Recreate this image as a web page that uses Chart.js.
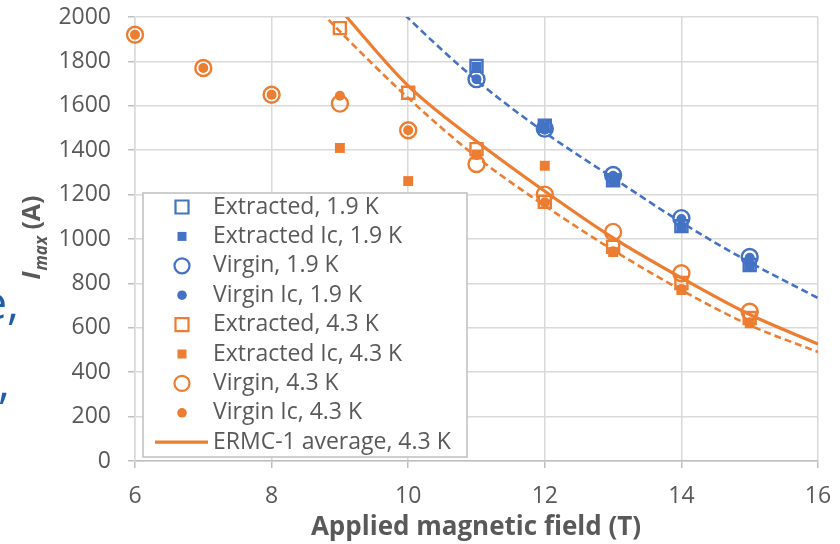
<!DOCTYPE html>
<html>
<head>
<meta charset="utf-8">
<script src="https://cdn.jsdelivr.net/npm/chart.js@4.4.1/dist/chart.umd.min.js"></script>
<style>
  body { margin: 0; background: #fff; }
  #wrap { width: 840px; height: 544px; }
</style>
</head>
<body>
<div id="wrap"><canvas id="chart" width="840" height="544"></canvas></div>
<script>
// field values (T)
const field43 = [6, 7, 8, 9, 10, 11, 12, 13, 14, 15];
const field43ext = [9, 10, 11, 12, 13, 14, 15];
const field19 = [11, 12, 13, 14, 15];

// measured currents (A)
const extracted19   = [1780, 1510, 1265, 1058, 883];
const extractedIc19 = [1775, 1505, 1262, 1052, 878];
const virgin19      = [1720, 1497, 1288, 1094, 919];
const virginIc19    = [1720, 1492, 1285, 1090, 915];
const extracted43   = [1950, 1659, 1405, 1168, 965, 802, 644];
const extractedIc43 = [1410, 1261, 1380, 1330, 941, 770, 620];
const virgin43      = [1920, 1770, 1650, 1610, 1490, 1338, 1200, 1032, 846, 672];
const virginIc43    = [1920, 1770, 1650, 1645, 1490, 1378, 1165, 945, 775, 625];

// curves
const ermcField = [9, 10, 11, 12, 13, 14, 15, 16];
const ermcAvg   = [2035, 1690, 1440, 1215, 1005, 825, 660, 527];
const fit43Field = [8.5, 9, 10, 11, 12, 13, 14, 15, 16];
const fit43      = [2095, 1935, 1635, 1370, 1150, 950, 770, 612, 491];
const fit19Field = [9.5, 10, 11, 12, 13, 14, 15, 16];
const fit19      = [2150, 1995, 1715, 1480, 1275, 1075, 895, 734];

const xTicks = [6, 8, 10, 12, 14, 16];

const BLUE = '#4472c4';
const ORANGE = '#ed7d31';
const TEXT = '#595959';
const FONT = '"Open Sans", sans-serif';

function pts(xs, ys) {
  return xs.map((x, i) => ({ x: x, y: ys[i] }));
}

function marker(label, xs, ys, color, style, open) {
  return {
    label: label,
    data: pts(xs, ys),
    showLine: false,
    pointStyle: style,
    pointRadius: open ? (style === 'rect' ? 8.5 : 8) : (style === 'rect' ? 7 : 5),
    pointBorderWidth: open ? 2.4 : 0,
    borderColor: color,
    backgroundColor: open ? 'rgba(0,0,0,0)' : color,
    pointBackgroundColor: open ? 'rgba(0,0,0,0)' : color,
    pointBorderColor: color,
    open: open,
    clip: false
  };
}

function curve(label, xs, ys, color, width, dash) {
  return {
    label: label,
    data: pts(xs, ys),
    showLine: true,
    borderColor: color,
    borderWidth: width,
    borderDash: dash,
    pointRadius: 0,
    cubicInterpolationMode: 'monotone',
    fill: false
  };
}

const datasets = [
  marker('Extracted, 1.9 K', field19, extracted19, BLUE, 'rect', true),
  marker('Extracted Ic, 1.9 K', field19, extractedIc19, BLUE, 'rect', false),
  marker('Virgin, 1.9 K', field19, virgin19, BLUE, 'circle', true),
  marker('Virgin Ic, 1.9 K', field19, virginIc19, BLUE, 'circle', false),
  marker('Extracted, 4.3 K', field43ext, extracted43, ORANGE, 'rect', true),
  marker('Extracted Ic, 4.3 K', field43ext, extractedIc43, ORANGE, 'rect', false),
  marker('Virgin, 4.3 K', field43, virgin43, ORANGE, 'circle', true),
  marker('Virgin Ic, 4.3 K', field43, virginIc43, ORANGE, 'circle', false),
  curve('ERMC-1 average, 4.3 K', ermcField, ermcAvg, ORANGE, 3.2, []),
  curve('', fit19Field, fit19, BLUE, 2.6, [7, 4]),
  curve('', fit43Field, fit43, ORANGE, 2.6, [7, 4])
];
// later series on top, like the original
datasets.forEach((d, i) => { d.order = 20 - i; });

const extras = {
  id: 'extras',
  afterDatasetsDraw(chart) {
    const ctx = chart.ctx;
    ctx.save();
    // legend box
    const lx = 143, ly = 193, lw = 324, lh = 264;
    ctx.fillStyle = '#fff';
    ctx.fillRect(lx, ly, lw, lh);
    ctx.strokeStyle = '#bfbfbf';
    ctx.lineWidth = 1.5;
    ctx.strokeRect(lx, ly, lw, lh);
    ctx.font = '23px ' + FONT;
    ctx.textBaseline = 'middle';
    ctx.textAlign = 'left';
    let row = 0;
    chart.data.datasets.forEach(d => {
      if (!d.label) return;
      const y = 207 + row * 29.4;
      const mx = 182;
      if (d.showLine) {
        ctx.strokeStyle = d.borderColor;
        ctx.lineWidth = d.borderWidth;
        ctx.beginPath();
        ctx.moveTo(155, y);
        ctx.lineTo(208, y);
        ctx.stroke();
      } else {
        ctx.beginPath();
        if (d.pointStyle === 'rect') {
          const s = d.open ? 13 : 9;
          ctx.rect(mx - s / 2, y - s / 2, s, s);
        } else {
          ctx.arc(mx, y, d.open ? 7.5 : 4.8, 0, Math.PI * 2);
        }
        if (d.open) {
          ctx.strokeStyle = d.borderColor;
          ctx.lineWidth = 2.2;
          ctx.stroke();
        } else {
          ctx.fillStyle = d.borderColor;
          ctx.fill();
        }
      }
      ctx.fillStyle = TEXT;
      ctx.fillText(d.label, 213, y);
      row++;
    });

    // x axis title
    ctx.fillStyle = TEXT;
    ctx.textAlign = 'center';
    ctx.textBaseline = 'alphabetic';
    ctx.font = 'bold 26px ' + FONT;
    ctx.fillText('Applied magnetic field (T)', 476, 535);

    // y axis title with subscript
    ctx.translate(40, 238);
    ctx.rotate(-Math.PI / 2);
    const fMain = 'italic bold 25px ' + FONT;
    const fSub = 'italic bold 17px ' + FONT;
    const fPar = 'bold 25px ' + FONT;
    ctx.font = fMain; const w1 = ctx.measureText('I').width;
    ctx.font = fSub; const w2 = ctx.measureText('max').width;
    ctx.font = fPar; const w3 = ctx.measureText(' (A)').width;
    let tx = -(w1 + w2 + w3) / 2;
    ctx.textAlign = 'left';
    ctx.font = fMain; ctx.fillText('I', tx, 0); tx += w1 + 1;
    ctx.font = fSub; ctx.fillText('max', tx, 7); tx += w2;
    ctx.font = fPar; ctx.fillText(' (A)', tx, 0);
    ctx.restore();

    // cut-off slide text at left edge
    ctx.save();
    ctx.fillStyle = '#1f5ea8';
    ctx.font = '46px "Open Sans", sans-serif';
    ctx.textAlign = 'right';
    ctx.textBaseline = 'alphabetic';
    ctx.fillText('e,', 19, 319);
    ctx.fillText(',', 10, 398);
    ctx.restore();
  }
};

new Chart(document.getElementById('chart'), {
  type: 'scatter',
  data: { datasets: datasets },
  options: {
    responsive: false,
    animation: false,
    layout: { autoPadding: false, padding: { top: 17, right: 22, left: 0, bottom: 0 } },
    plugins: { legend: { display: false }, tooltip: { enabled: false } },
    scales: {
      x: {
        type: 'linear',
        min: 6, max: 16,
        afterFit(s) { s.height = 83; s.paddingLeft = 0; s.paddingRight = 0; },
        afterBuildTicks(s) { s.ticks = xTicks.map(v => ({ value: v })); },
        ticks: { color: TEXT, font: { family: FONT, size: 23 }, padding: 15, callback: v => String(v) },
        grid: { color: '#d9d9d9', lineWidth: 1.5, tickLength: 7, tickColor: '#bfbfbf' },
        border: { color: '#bfbfbf', width: 1.5 }
      },
      y: {
        min: 0, max: 2000,
        afterFit(s) { s.width = 135; s.paddingTop = 0; s.paddingBottom = 0; },
        ticks: { stepSize: 200, color: TEXT, font: { family: FONT, size: 23 }, padding: 17, callback: v => String(v) },
        grid: { color: '#d9d9d9', lineWidth: 1.5, tickLength: 7, tickColor: '#bfbfbf' },
        border: { color: '#d9d9d9', width: 1.5 }
      }
    }
  },
  plugins: [extras]
});
</script>
</body>
</html>
